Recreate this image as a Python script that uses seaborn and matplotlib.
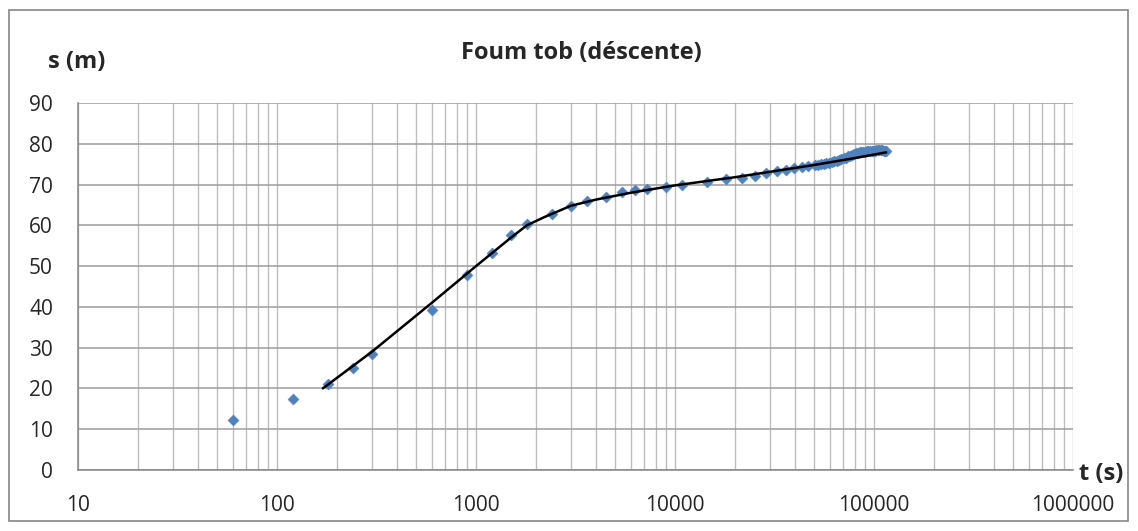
import numpy as np
import pandas as pd
import matplotlib
matplotlib.use("Agg")
import matplotlib.pyplot as plt
import matplotlib.ticker as mticker
import seaborn as sns

# measured drawdown (descente)
t_obs = [60, 120, 180, 240, 300, 600, 900, 1200, 1500, 1800, 2400, 3000, 3600,
         4500, 5400, 6300, 7200, 9000, 10800, 14400, 18000, 21600, 25200, 28800,
         32400, 36000, 39600, 43200, 46800,
         50400, 52200, 54000, 55800, 57600, 59400, 61200, 63000, 64800, 66600,
         68400, 70200, 72000, 73800, 75600, 77400, 79200, 81000, 82800, 84600,
         86400, 88200, 90000, 91800, 93600, 95400, 97200, 99000, 100800, 102600,
         104400, 106200, 108000, 109800, 111600, 113400, 115200]
s_obs = [12.3, 17.5, 21.0, 25.0, 28.5, 39.3, 47.8, 53.3, 57.7, 60.3, 62.8, 64.7, 65.9,
         66.9, 68.1, 68.6, 69.0, 69.4, 69.9, 70.6, 71.3, 71.6, 72.1, 72.8,
         73.3, 73.5, 74.0, 74.3, 74.5,
         74.8, 74.9, 75.0, 75.1, 75.3, 75.4, 75.5, 75.7, 75.8, 76.0,
         76.2, 76.4, 76.6, 76.9, 77.1, 77.3, 77.5, 77.7, 77.8, 77.9,
         78.0, 78.1, 78.1, 78.2, 78.2, 78.3, 78.3, 78.3, 78.3, 78.4,
         78.4, 78.4, 78.4, 78.4, 78.3, 78.3, 78.2]

# fitted curve
t_fit = [170, 300, 600, 1000, 1500, 1800, 2200, 3000, 4000, 6000, 10000,
         20000, 50000, 80000, 115000]
s_fit = [20.0, 29.0, 41.0, 50.0, 57.0, 60.0, 62.0, 64.8, 66.3, 68.0, 69.8,
         71.8, 74.8, 76.5, 77.9]

y_ticks = [0, 10, 20, 30, 40, 50, 60, 70, 80, 90]
x_ticks = [10, 100, 1000, 10000, 100000, 1000000]

obs = pd.DataFrame({"t": t_obs, "s": s_obs})
fit = pd.DataFrame({"t": t_fit, "s": s_fit})

sns.set_style("white")
plt.rcParams["font.family"] = ["Open Sans", "DejaVu Sans"]

fig = plt.figure(figsize=(11.38, 5.31), dpi=100)
ax = fig.add_axes([0.0685, 0.115, 0.8745, 0.691])
ax.set_xscale("log")

sns.scatterplot(data=obs, x="t", y="s", marker="D", color="#4F81BD", s=32,
                edgecolor="#4F81BD", linewidth=0.3, ax=ax, zorder=3)
sns.lineplot(data=fit, x="t", y="s", color="black", linewidth=1.8, ax=ax, zorder=4)

ax.set_xlim(10, 1000000)
ax.set_ylim(0, 90)
ax.set_yticks(y_ticks)
ax.set_xticks(x_ticks)
ax.xaxis.set_major_formatter(mticker.FuncFormatter(lambda v, p: f"{int(round(v))}"))
ax.xaxis.set_minor_locator(mticker.LogLocator(base=10, subs=np.arange(2, 10)))
ax.xaxis.set_minor_formatter(mticker.NullFormatter())
ax.grid(True, which="major", axis="y", color="#9c9c9c", linewidth=1.1)
ax.grid(True, which="both", axis="x", color="#bdbdbd", linewidth=1.0)
ax.set_axisbelow(True)
for side in ["top", "right"]:
    ax.spines[side].set_visible(False)
for side in ["left", "bottom"]:
    ax.spines[side].set_color("#868686")
    ax.spines[side].set_linewidth(1.1)
ax.tick_params(axis="y", which="major", direction="out", length=7,
               color="#868686", labelsize=15, pad=11)
ax.tick_params(axis="x", which="major", direction="out", length=7,
               color="#868686", labelsize=15, pad=11)
ax.tick_params(axis="x", which="minor", length=0)
ax.set_xlabel("")
ax.set_ylabel("")

fig.text(0.5105, 0.90, "Foum tob (déscente)", ha="center", va="center",
         fontsize=17, fontweight="bold")
fig.text(0.0677, 0.884, "s (m)", ha="center", va="center",
         fontsize=17, fontweight="bold")
fig.text(0.9675, 0.107, "t (s)", ha="center", va="center",
         fontsize=17, fontweight="bold")

fig.patches.append(plt.Rectangle((0.008, 0.019), 0.983, 0.962, transform=fig.transFigure,
                                 fill=False, edgecolor="#868686", linewidth=1.2))

fig.savefig("out.png", dpi=100)
